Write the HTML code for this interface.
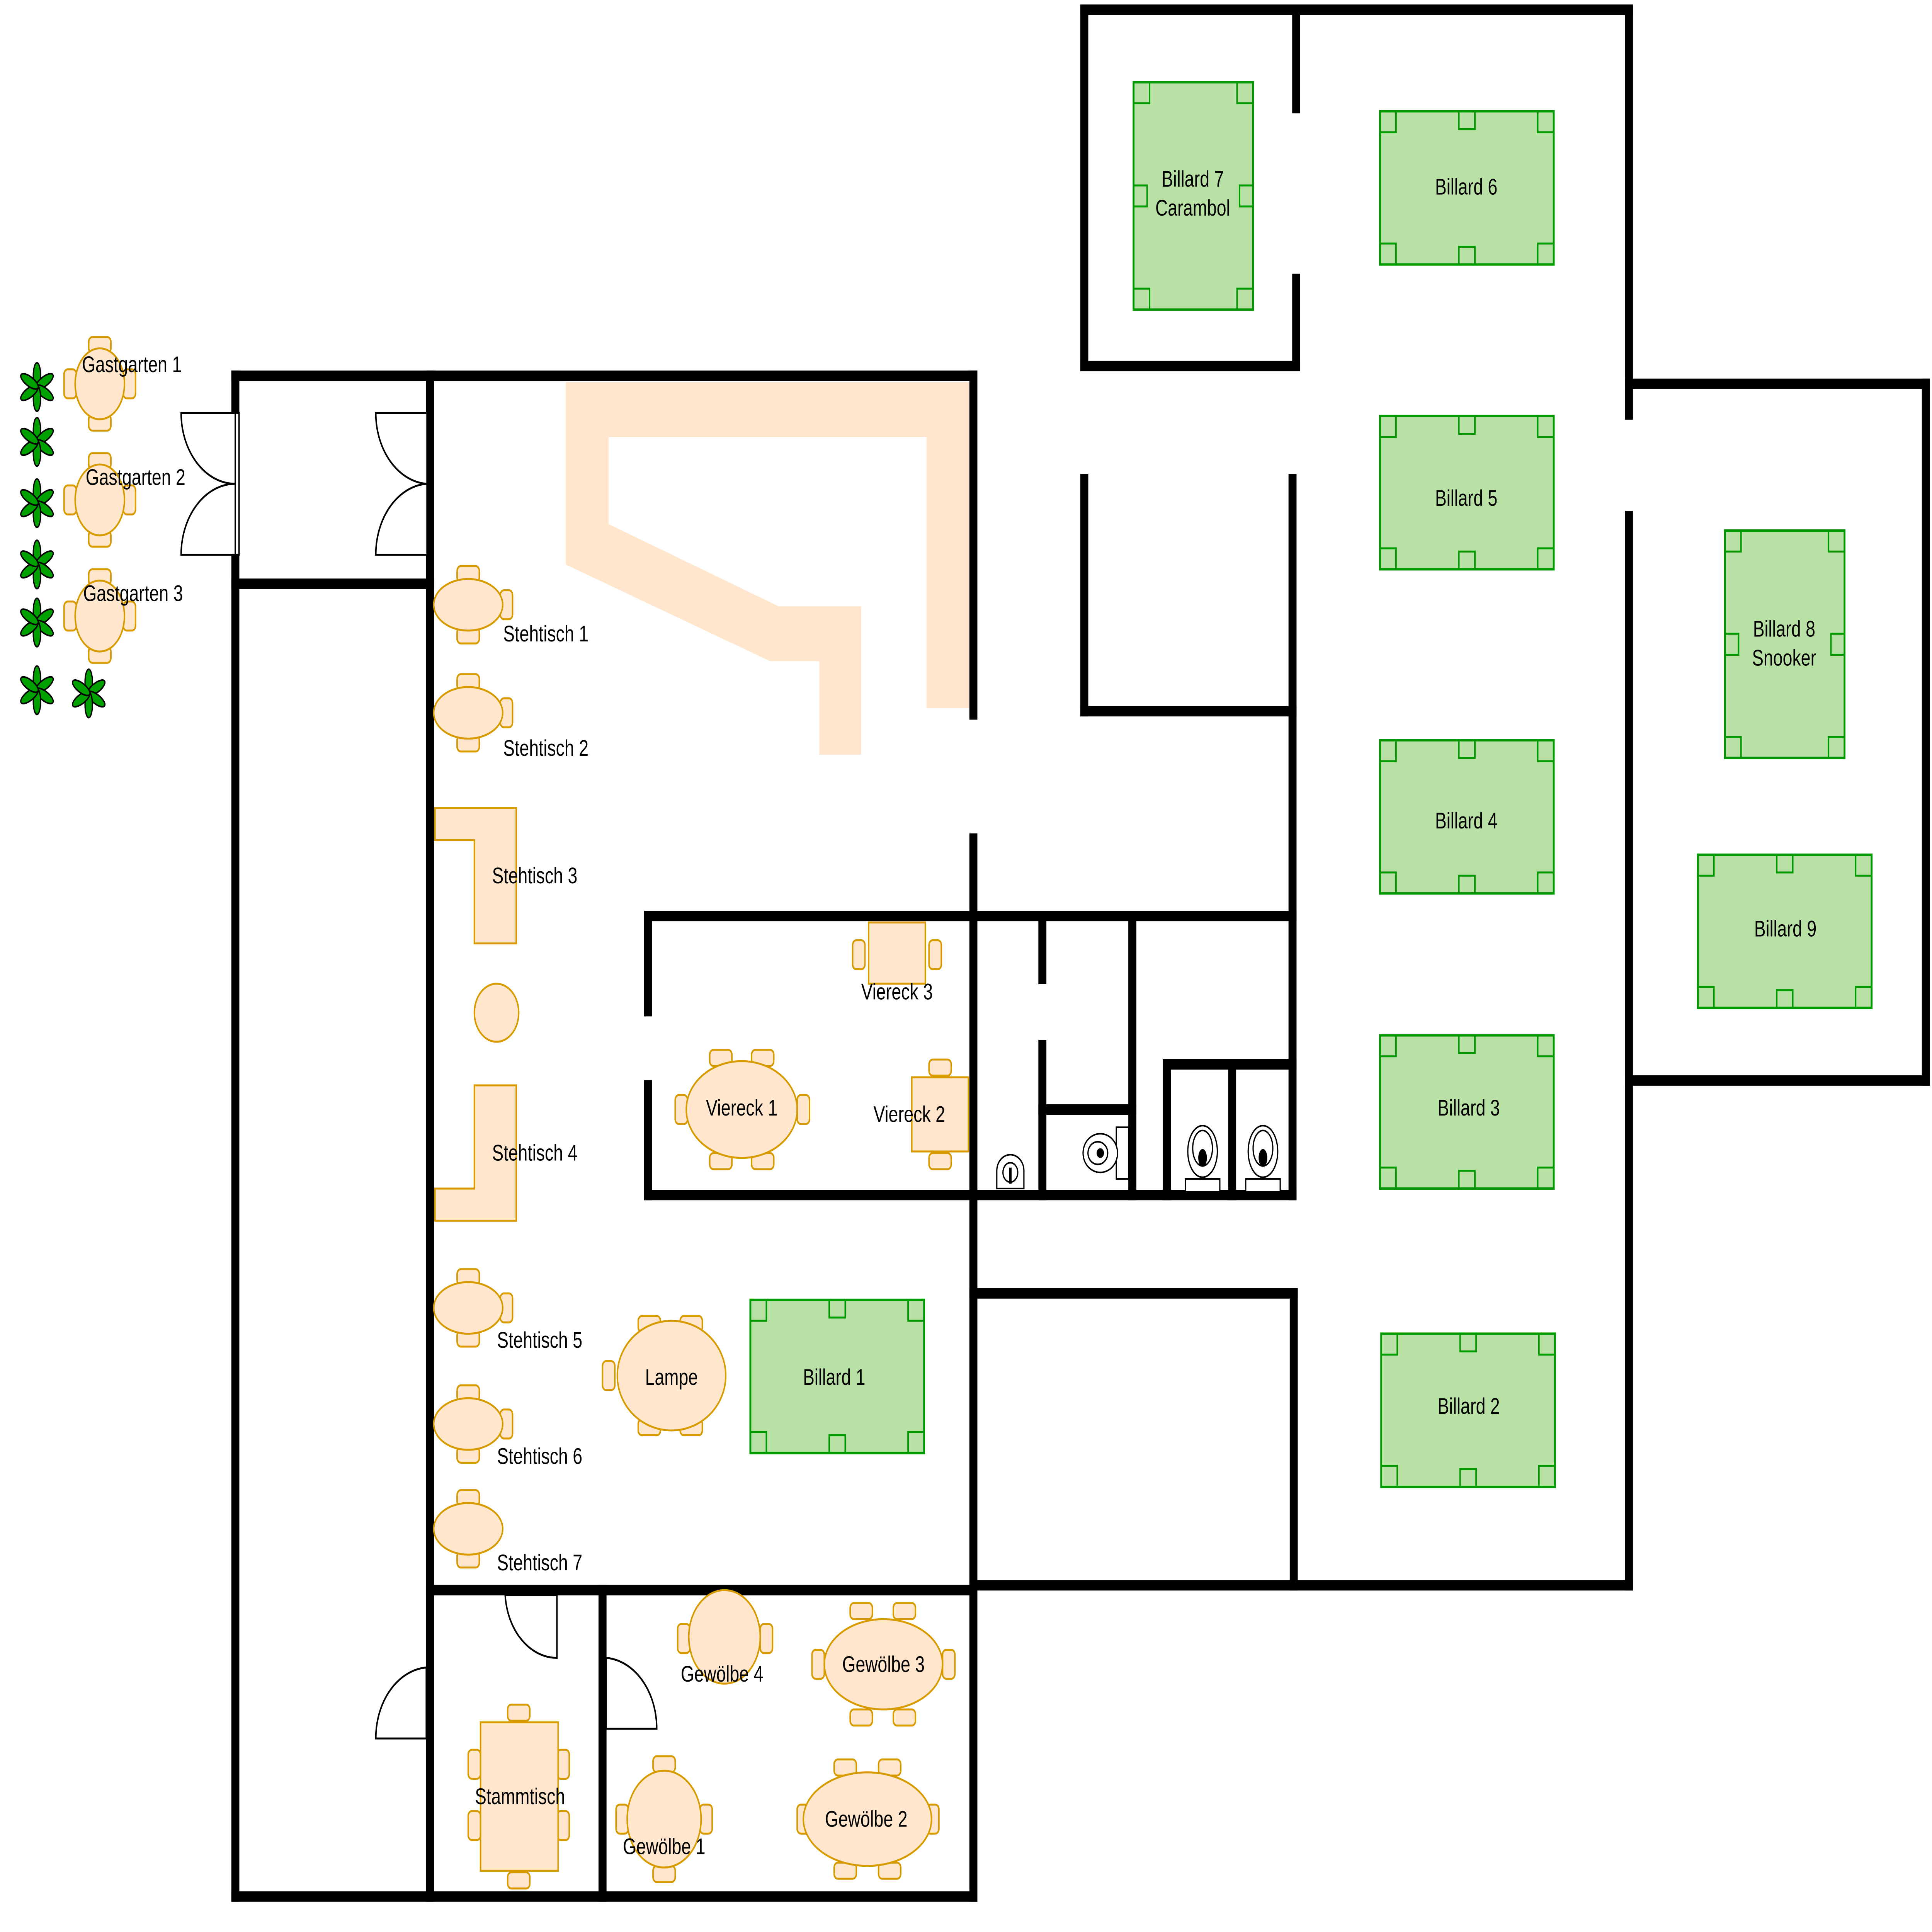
<!DOCTYPE html>
<html><head><meta charset="utf-8"><style>
html,body{margin:0;padding:0;background:#fff;width:100%;height:100%;overflow:hidden;}
svg{display:block;position:fixed;left:0;top:0;width:100vw;height:100vh;}
text{font-family:"Liberation Sans",sans-serif;font-size:14px;fill:#000;text-anchor:middle;dominant-baseline:middle;}
</style></head><body>
<svg viewBox="0 0 1568 1198" preserveAspectRatio="none" xmlns="http://www.w3.org/2000/svg">
<defs>
<g id="bh">
<rect x="0" y="0" width="141" height="95" fill="#b9e0a5" stroke="#009900" stroke-width="1.5"/>
<g fill="none" stroke="#009900" stroke-width="1.2">
<rect x="0" y="0" width="13" height="13"/><rect x="128" y="0" width="13" height="13"/>
<rect x="0" y="82" width="13" height="13"/><rect x="128" y="82" width="13" height="13"/>
<rect x="64" y="0" width="13" height="11"/><rect x="64" y="84" width="13" height="11"/>
</g></g>
<g id="bv">
<rect x="0" y="0" width="97" height="141" fill="#b9e0a5" stroke="#009900" stroke-width="1.5"/>
<g fill="none" stroke="#009900" stroke-width="1.2">
<rect x="0" y="0" width="13" height="13"/><rect x="84" y="0" width="13" height="13"/>
<rect x="0" y="128" width="13" height="13"/><rect x="84" y="128" width="13" height="13"/>
<rect x="0" y="64" width="11" height="13"/><rect x="86" y="64" width="11" height="13"/>
</g></g>
<g id="chh"><rect x="-9" y="-5" width="18" height="10" rx="3" fill="#ffe6cc" stroke="#d79b00" stroke-width="1.2"/></g>
<g id="chv"><rect x="-5" y="-9" width="10" height="18" rx="3" fill="#ffe6cc" stroke="#d79b00" stroke-width="1.2"/></g>
<g id="plant" fill="#00a000" stroke="#000" stroke-width="1">
<ellipse cx="0" cy="-7" rx="3" ry="8"/>
<ellipse cx="0" cy="-7" rx="3" ry="8" transform="rotate(60)"/>
<ellipse cx="0" cy="-7" rx="3" ry="8" transform="rotate(120)"/>
<ellipse cx="0" cy="-7" rx="3" ry="8" transform="rotate(180)"/>
<ellipse cx="0" cy="-7" rx="3" ry="8" transform="rotate(240)"/>
<ellipse cx="0" cy="-7" rx="3" ry="8" transform="rotate(300)"/>
</g>
</defs>

<polygon points="459,237 787,237 787,439 752,439 752,271 494,271 494,325 632,376 699,376 699,468 665,468 665,410 625,410 459,350" fill="#ffe6cc"/>

<g stroke="#000" stroke-width="6.5" fill="none" stroke-linecap="square">
<line x1="191" y1="233" x2="191" y2="1176"/>
<line x1="191" y1="1176" x2="790" y2="1176"/>
<line x1="349" y1="233" x2="349" y2="1176"/>
<line x1="191" y1="233" x2="790" y2="233"/>
<line x1="191" y1="362" x2="349" y2="362"/>
<line x1="790" y1="233" x2="790" y2="443"/>
<line x1="790" y1="520" x2="790" y2="1176"/>
<line x1="526" y1="568" x2="1049" y2="568"/>
<line x1="526" y1="568" x2="526" y2="627"/>
<line x1="526" y1="673" x2="526" y2="741"/>
<line x1="526" y1="741" x2="1049" y2="741"/>
<line x1="846" y1="568" x2="846" y2="607"/>
<line x1="846" y1="648" x2="846" y2="741"/>
<line x1="919" y1="568" x2="919" y2="741"/>
<line x1="846" y1="688" x2="919" y2="688"/>
<line x1="947" y1="660" x2="947" y2="741"/>
<line x1="1000" y1="660" x2="1000" y2="741"/>
<line x1="947" y1="660" x2="1049" y2="660"/>
<line x1="1049" y1="297" x2="1049" y2="741"/>
<line x1="880" y1="441" x2="1049" y2="441"/>
<line x1="880" y1="297" x2="880" y2="441"/>
<line x1="880" y1="6" x2="880" y2="227"/>
<line x1="880" y1="6" x2="1322" y2="6"/>
<line x1="880" y1="227" x2="1052" y2="227"/>
<line x1="1052" y1="6" x2="1052" y2="67"/>
<line x1="1052" y1="173" x2="1052" y2="227"/>
<line x1="1322" y1="6" x2="1322" y2="257"/>
<line x1="1322" y1="320" x2="1322" y2="983"/>
<line x1="1322" y1="238" x2="1563" y2="238"/>
<line x1="1563" y1="238" x2="1563" y2="670"/>
<line x1="1322" y1="670" x2="1563" y2="670"/>
<line x1="790" y1="983" x2="1322" y2="983"/>
<line x1="790" y1="802" x2="1050" y2="802"/>
<line x1="1050" y1="802" x2="1050" y2="983"/>
<line x1="349" y1="986" x2="790" y2="986"/>
<line x1="489" y1="986" x2="489" y2="1176"/>
</g>

<g stroke="#000" stroke-width="1.2" fill="#fff">
<path d="M191,256 L147,256 A44,44 0 0 0 191,300 Z"/>
<path d="M191,344 L147,344 A44,44 0 0 1 191,300 Z"/>
<rect x="191" y="256" width="3" height="88" fill="#fff"/>
<path d="M346,256 L305,256 A44,44 0 0 0 346,300" />
<path d="M346,344 L305,344 A44,44 0 0 1 346,300" />
<path d="M346,1034 A44,44 0 0 0 305,1078 L346,1078 Z"/>
<path d="M410,989 L452,989 L452,1028 A42,42 0 0 1 410,989 Z"/>
<path d="M492,1028 A44,44 0 0 1 533,1072 L492,1072 Z"/>
</g>

<use href="#bv" x="920" y="51"/><text x="968" y="112">Billard 7</text><text x="968" y="130">Carambol</text>
<use href="#bh" x="1120" y="69"/><text x="1190" y="117">Billard 6</text>
<use href="#bh" x="1120" y="258"/><text x="1190" y="310">Billard 5</text>
<use href="#bh" x="1120" y="459"/><text x="1190" y="510">Billard 4</text>
<use href="#bh" x="1120" y="642"/><text x="1192" y="688">Billard 3</text>
<use href="#bh" x="1121" y="827"/><text x="1192" y="873">Billard 2</text>
<use href="#bv" x="1400" y="329"/><text x="1448" y="391">Billard 8</text><text x="1448" y="409">Snooker</text>
<use href="#bh" x="1378" y="530"/><text x="1449" y="577">Billard 9</text>
<use href="#bh" x="609" y="806"/><text x="677" y="855">Billard 1</text>

<g>
<use href="#chh" x="380" y="356"/><use href="#chh" x="380" y="394"/><use href="#chv" x="411" y="375"/>
<ellipse cx="380" cy="375" rx="28" ry="16" fill="#ffe6cc" stroke="#d79b00" stroke-width="1.2"/>
<use href="#chh" x="380" y="423"/><use href="#chh" x="380" y="461"/><use href="#chv" x="411" y="442"/>
<ellipse cx="380" cy="442" rx="28" ry="16" fill="#ffe6cc" stroke="#d79b00" stroke-width="1.2"/>
<use href="#chh" x="380" y="792"/><use href="#chh" x="380" y="830"/><use href="#chv" x="411" y="811"/>
<ellipse cx="380" cy="811" rx="28" ry="16" fill="#ffe6cc" stroke="#d79b00" stroke-width="1.2"/>
<use href="#chh" x="380" y="864"/><use href="#chh" x="380" y="902"/><use href="#chv" x="411" y="883"/>
<ellipse cx="380" cy="883" rx="28" ry="16" fill="#ffe6cc" stroke="#d79b00" stroke-width="1.2"/>
<use href="#chh" x="380" y="929"/><use href="#chh" x="380" y="967"/>
<ellipse cx="380" cy="948" rx="28" ry="16" fill="#ffe6cc" stroke="#d79b00" stroke-width="1.2"/>
<polygon points="353,501 419,501 419,585 385,585 385,521 353,521" fill="#ffe6cc" stroke="#d79b00" stroke-width="1.2"/>
<polygon points="385,673 419,673 419,757 353,757 353,737 385,737" fill="#ffe6cc" stroke="#d79b00" stroke-width="1.2"/>
<circle cx="403" cy="628" r="18" fill="#ffe6cc" stroke="#d79b00" stroke-width="1.2"/>
</g>
<text x="443" y="394">Stehtisch 1</text>
<text x="443" y="465">Stehtisch 2</text>
<text x="434" y="544">Stehtisch 3</text>
<text x="434" y="716">Stehtisch 4</text>
<text x="438" y="832">Stehtisch 5</text>
<text x="438" y="904">Stehtisch 6</text>
<text x="438" y="970">Stehtisch 7</text>

<use href="#chh" x="585" y="656"/><use href="#chh" x="619" y="656"/><use href="#chh" x="585" y="720"/><use href="#chh" x="619" y="720"/>
<use href="#chv" x="553" y="688"/><use href="#chv" x="652" y="688"/>
<ellipse cx="602" cy="688" rx="45" ry="30" fill="#ffe6cc" stroke="#d79b00" stroke-width="1.2"/>
<text x="602" y="688">Viereck 1</text>
<use href="#chh" x="527" y="821"/><use href="#chh" x="561" y="821"/><use href="#chh" x="527" y="885"/><use href="#chh" x="561" y="885"/>
<use href="#chv" x="494" y="853"/>
<ellipse cx="545" cy="853" rx="44" ry="34" fill="#ffe6cc" stroke="#d79b00" stroke-width="1.2"/>
<text x="545" y="855">Lampe</text>
<use href="#chv" x="697" y="592"/><use href="#chv" x="759" y="592"/>
<rect x="705" y="572" width="46" height="38" fill="#ffe6cc" stroke="#d79b00" stroke-width="1.2"/>
<text x="728" y="616">Viereck 3</text>
<use href="#chh" x="763" y="662"/><use href="#chh" x="763" y="720"/>
<rect x="740" y="668" width="46" height="46" fill="#ffe6cc" stroke="#d79b00" stroke-width="1.2"/>
<text x="738" y="692">Viereck 2</text>

<use href="#chh" x="421" y="1062"/><use href="#chh" x="421" y="1166"/>
<use href="#chv" x="385" y="1094"/><use href="#chv" x="385" y="1132"/><use href="#chv" x="457" y="1094"/><use href="#chv" x="457" y="1132"/>
<rect x="390" y="1068" width="63" height="92" fill="#ffe6cc" stroke="#d79b00" stroke-width="1.2"/>
<text x="422" y="1115">Stammtisch</text>
<use href="#chv" x="555" y="1016"/><use href="#chv" x="622" y="1016"/>
<circle cx="588" cy="1015" r="29" fill="#ffe6cc" stroke="#d79b00" stroke-width="1.2"/>
<text x="586" y="1039">Gewölbe 4</text>
<use href="#chh" x="699" y="999"/><use href="#chh" x="734" y="999"/><use href="#chh" x="699" y="1065"/><use href="#chh" x="734" y="1065"/>
<use href="#chv" x="664" y="1032"/><use href="#chv" x="770" y="1032"/>
<ellipse cx="717" cy="1032" rx="48" ry="28" fill="#ffe6cc" stroke="#d79b00" stroke-width="1.2"/>
<text x="717" y="1033">Gewölbe 3</text>
<use href="#chh" x="539" y="1094"/><use href="#chh" x="539" y="1162"/><use href="#chv" x="505" y="1128"/><use href="#chv" x="573" y="1128"/>
<circle cx="539" cy="1128" r="30" fill="#ffe6cc" stroke="#d79b00" stroke-width="1.2"/>
<text x="539" y="1146">Gewölbe 1</text>
<use href="#chh" x="686" y="1096"/><use href="#chh" x="722" y="1096"/><use href="#chh" x="686" y="1160"/><use href="#chh" x="722" y="1160"/>
<use href="#chv" x="652" y="1128"/><use href="#chv" x="757" y="1128"/>
<ellipse cx="704" cy="1128" rx="52" ry="29" fill="#ffe6cc" stroke="#d79b00" stroke-width="1.2"/>
<text x="703" y="1129">Gewölbe 2</text>

<g>
<use href="#chh" x="81" y="214"/><use href="#chh" x="81" y="262"/><use href="#chv" x="57" y="238"/><use href="#chv" x="105" y="238"/>
<ellipse cx="81" cy="238" rx="20" ry="22" fill="#ffe6cc" stroke="#d79b00" stroke-width="1.2"/>
<use href="#chh" x="81" y="286"/><use href="#chh" x="81" y="334"/><use href="#chv" x="57" y="310"/><use href="#chv" x="105" y="310"/>
<ellipse cx="81" cy="310" rx="20" ry="22" fill="#ffe6cc" stroke="#d79b00" stroke-width="1.2"/>
<use href="#chh" x="81" y="358"/><use href="#chh" x="81" y="406"/><use href="#chv" x="57" y="382"/><use href="#chv" x="105" y="382"/>
<ellipse cx="81" cy="382" rx="20" ry="22" fill="#ffe6cc" stroke="#d79b00" stroke-width="1.2"/>
</g>
<text x="107" y="227">Gastgarten 1</text>
<text x="110" y="297">Gastgarten 2</text>
<text x="108" y="369">Gastgarten 3</text>
<use href="#plant" x="30" y="240"/><use href="#plant" x="30" y="274"/><use href="#plant" x="30" y="312"/>
<use href="#plant" x="30" y="350"/><use href="#plant" x="30" y="386"/><use href="#plant" x="30" y="428"/><use href="#plant" x="72" y="430"/>

<g stroke="#000" stroke-width="1" fill="#fff">
<path d="M809,737 L809,726 A11,10 0 0 1 831,726 L831,737 Z"/>
<circle cx="820" cy="727" r="6"/>
<line x1="820" y1="724" x2="820" y2="734" stroke-width="2"/>
<rect x="906" y="699" width="10" height="32"/>
<ellipse cx="893" cy="715" rx="14" ry="12"/>
<ellipse cx="891" cy="715" rx="8" ry="7"/>
<circle cx="893" cy="715" r="2.5" fill="#000"/>
<rect x="962" y="731" width="28" height="8"/>
<ellipse cx="976" cy="714" rx="12" ry="16"/>
<ellipse cx="976" cy="712" rx="8" ry="11"/>
<ellipse cx="976" cy="718" rx="3" ry="5" fill="#000"/>
<rect x="1011" y="731" width="28" height="8"/>
<ellipse cx="1025" cy="714" rx="12" ry="16"/>
<ellipse cx="1025" cy="712" rx="8" ry="11"/>
<ellipse cx="1025" cy="718" rx="3" ry="5" fill="#000"/>
</g>
</svg>
</body></html>
